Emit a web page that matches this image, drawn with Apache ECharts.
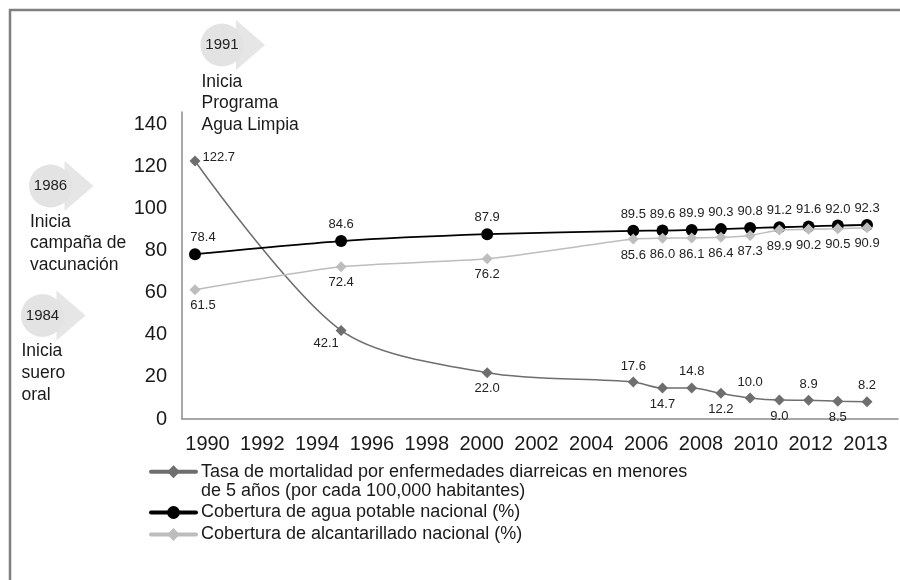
<!DOCTYPE html>
<html>
<head>
<meta charset="utf-8">
<script src="https://cdn.jsdelivr.net/npm/echarts@6/dist/echarts.min.js"></script>
<style>html,body{margin:0;padding:0;background:#fff}#chart{width:900px;height:580px}</style>
</head>
<body>
<div id="chart"></div>
<script>
var years = [1990, 1995, 2000, 2005, 2006, 2007, 2008, 2009, 2010, 2011, 2012, 2013];
var mortalidad = [122.7, 42.1, 22.0, 17.6, 14.7, 14.8, 12.2, 10.0, 9.0, 8.9, 8.5, 8.2];
var aguaPotable = [78.4, 84.6, 87.9, 89.5, 89.6, 89.9, 90.3, 90.8, 91.2, 91.6, 92.0, 92.3];
var alcantarillado = [61.5, 72.4, 76.2, 85.6, 86.0, 86.1, 86.4, 87.3, 89.9, 90.2, 90.5, 90.9];
var xTickLabels = ['1990','1992','1994','1996','1998','2000','2002','2004','2006','2008','2010','2012','2013'];
var yTicks = [0, 20, 40, 60, 80, 100, 120, 140];

var nameMort = 'Tasa de mortalidad por enfermedades diarreicas en menores de 5 años (por cada 100,000 habitantes)';
var nameAgua = 'Cobertura de agua potable nacional (%)';
var nameAlc = 'Cobertura de alcantarillado nacional (%)';

// label placement styles (not data)
var mortLabelPos = ['right','bottom','bottom','top','bottom','top','bottom','top','bottom','top','bottom','top'];
var FONT = '"Liberation Sans", Arial, Helvetica, sans-serif';

function pairs(vals) { return years.map(function (y, i) { return [y, vals[i]]; }); }

var mortData = pairs(mortalidad).map(function (p, i) {
  var item = { value: p, label: { position: mortLabelPos[i] } };
  if (i === 0) item.label.offset = [-2, -4];
  if (i === 1) item.label.offset = [-15, -3];
  return item;
});
var aguaData = pairs(aguaPotable).map(function (p, i) {
  var item = { value: p };
  if (i === 0) item.label = { offset: [8, 0] };
  return item;
});
var alcData = pairs(alcantarillado).map(function (p, i) {
  var item = { value: p };
  if (i === 0) item.label = { offset: [8, 0] };
  return item;
});

var chart = echarts.init(document.getElementById('chart'), null, { renderer: 'canvas' });

var labelStyle = { show: true, fontSize: 13, color: '#222', fontFamily: FONT, distance: 4,
  formatter: function (p) { return p.value[1].toFixed(1); } };

function annot(year, cx, cy, tx, ty, text) {
  return [
    { type: 'polygon', z: 1, shape: { points: [[cx + 14, cy - 25], [cx + 14, cy + 25], [cx + 43, cy]] },
      style: { fill: '#e6e6e6' } },
    { type: 'circle', z: 2, shape: { cx: cx, cy: cy, r: 21.5 }, style: { fill: '#e3e3e3' } },
    { type: 'text', z: 3, x: cx, y: cy, style: { text: year, fontSize: 15, fontFamily: FONT, fill: '#222',
      align: 'center', verticalAlign: 'middle' } },
    { type: 'text', z: 3, x: tx, y: ty, style: { text: text, fontSize: 17.5, lineHeight: 21.7, fontFamily: FONT,
      fill: '#1a1a1a', align: 'left', verticalAlign: 'top' } }
  ];
}

var graphics = [
  { type: 'rect', z: 0, shape: { x: 10, y: 10, width: 1000, height: 1000 },
    style: { fill: null, stroke: '#7f7f7f', lineWidth: 2.5 } }
].concat(
  annot('1991', 222, 45, 201.5, 71, 'Inicia\nPrograma\nAgua Limpia'),
  annot('1986', 50.5, 186, 30, 211, 'Inicia\ncampaña de\nvacunación'),
  annot('1984', 42.5, 315.5, 21.5, 340.5, 'Inicia\nsuero\noral')
);

var option = {
  animation: false,
  backgroundColor: '#fff',
  textStyle: { fontFamily: FONT },
  graphic: graphics,
  grid: [
    { left: 182, right: 2, top: 112, bottom: 161, containLabel: false },
    { left: 207.5, right: 34.5, top: 112, bottom: 161, containLabel: false }
  ],
  xAxis: [
    { type: 'value', gridIndex: 0, min: 1989.555, max: 2014.06,
      axisLine: { show: true, lineStyle: { color: '#8c8c8c', width: 1.5 } },
      axisTick: { show: false }, axisLabel: { show: false }, splitLine: { show: false } },
    { type: 'category', gridIndex: 1, data: xTickLabels, boundaryGap: false,
      axisLine: { show: false }, axisTick: { show: false }, splitLine: { show: false },
      axisLabel: { show: true, interval: 0, fontSize: 20, color: '#1a1a1a', fontFamily: FONT, margin: 15 } }
  ],
  yAxis: [
    { type: 'value', gridIndex: 0, min: 0, max: 146, interval: 20,
      axisLine: { show: true, lineStyle: { color: '#8c8c8c', width: 1.5 } },
      axisTick: { show: false }, splitLine: { show: false },
      axisLabel: { fontSize: 20, color: '#1a1a1a', fontFamily: FONT, margin: 15,
        showMaxLabel: false,
        formatter: function (v) { return yTicks.indexOf(v) >= 0 ? String(v) : ''; } } },
    { type: 'value', gridIndex: 1, min: 0, max: 146, show: false }
  ],
  legend: {
    orient: 'vertical', left: 149, top: 442.5, itemWidth: 45, itemHeight: 16, itemGap: 1,
    padding: 0,
    textStyle: { fontSize: 18, lineHeight: 21, color: '#1a1a1a', fontFamily: FONT },
    lineStyle: { width: 4, cap: 'round' },
    data: [
      { name: nameMort, textStyle: { lineHeight: 19.5 } },
      { name: nameAgua },
      { name: nameAlc }
    ],
    formatter: function (n) {
      if (n === nameMort) return ' \nTasa de mortalidad por enfermedades diarreicas en menores\nde 5 años (por cada 100,000 habitantes)';
      return n;
    }
  },
  series: [
    { name: nameMort, type: 'line', xAxisIndex: 0, yAxisIndex: 0, data: mortData, smooth: 0.3,
      symbol: 'diamond', symbolSize: 11,
      lineStyle: { color: '#6e6e6e', width: 1.5 }, itemStyle: { color: '#6e6e6e' },
      label: labelStyle, z: 3 },
    { name: nameAgua, type: 'line', xAxisIndex: 0, yAxisIndex: 0, data: aguaData, smooth: 0.2,
      symbol: 'circle', symbolSize: 12,
      lineStyle: { color: '#000', width: 1.8 }, itemStyle: { color: '#000' },
      label: Object.assign({}, labelStyle, { position: 'top' }), z: 4 },
    { name: nameAlc, type: 'line', xAxisIndex: 0, yAxisIndex: 0, data: alcData, smooth: 0.2,
      symbol: 'diamond', symbolSize: 11,
      lineStyle: { color: '#bdbdbd', width: 1.5 }, itemStyle: { color: '#bdbdbd' },
      label: Object.assign({}, labelStyle, { position: 'bottom' }), z: 5 }
  ]
};
chart.setOption(option);
</script>
</body>
</html>
